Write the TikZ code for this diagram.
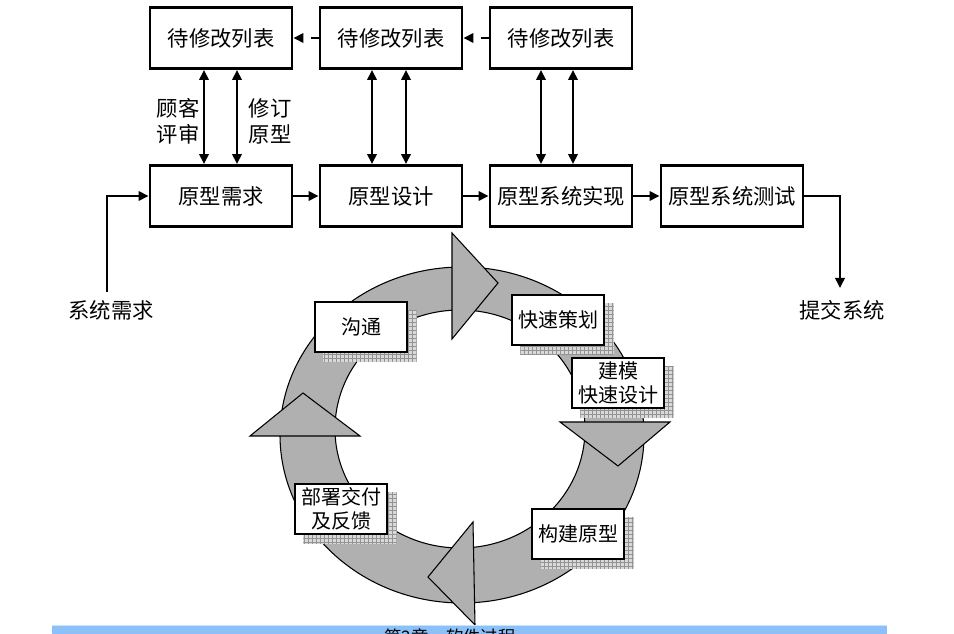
\documentclass[tikz,border=0pt]{standalone}
\usepackage{fontspec}
\newfontfamily\cjk{Noto Sans CJK SC}
\usetikzlibrary{arrows.meta,calc,patterns}

\definecolor{ringgray}{RGB}{176,176,176}
\definecolor{barblue}{RGB}{140,192,248}
\definecolor{barline}{RGB}{200,228,252}

\pgfdeclarelayer{bg}
\pgfsetlayers{bg,main}

\begin{document}
\begin{tikzpicture}[x=0.75pt,y=-0.75pt,
  font=\cjk\fontsize{16pt}{19.5pt}\selectfont,
  flowbox/.style={draw,line width=2.2pt,minimum width=106.5pt,minimum height=45.75pt,inner sep=0pt},
  tip/.tip={Triangle[length=7.5pt,width=7pt]},
  flowarrow/.style={line width=2.2pt,-tip},
  duplex/.style={line width=2.2pt,tip-tip},
  backarrow/.style={flowarrow,dash pattern=on 6pt off 7pt},
  ringarea/.style={fill=ringgray,draw=black,line width=0.8pt},
  stagebox/.style={draw,fill=white,line width=0.8pt,minimum width=69pt,minimum height=37.5pt,
    inner sep=0pt,align=center,font=\cjk\fontsize{15pt}{17.5pt}\selectfont},
  stageshadow/.style={fill=gray!30,postaction={pattern=grid,pattern color=gray!85}},
  caption/.style={align=center,inner sep=0pt}
]
\useasboundingbox (0,0) rectangle (954,634);

% pending-change lists
\node[flowbox] (m1) at (221,38) {待修改列表};
\node[flowbox] (m2) at (391,38) {待修改列表};
\node[flowbox] (m3) at (561,38) {待修改列表};

% prototyping pipeline
\node[flowbox] (r1) at (221,196) {原型需求};
\node[flowbox] (r2) at (391,196) {原型设计};
\node[flowbox] (r3) at (561,196) {原型系统实现};
\node[flowbox] (r4) at (732,196) {原型系统测试};

\draw[backarrow] (m2.west) -- (m1.east);
\draw[backarrow] (m3.west) -- (m2.east);

\draw[duplex] ([xshift=-12.75pt]m1.south) -- ([xshift=-12.75pt]r1.north);
\draw[duplex] ([xshift=12pt]m1.south) -- ([xshift=12pt]r1.north);
\draw[duplex] ([xshift=-14.25pt]m2.south) -- ([xshift=-14.25pt]r2.north);
\draw[duplex] ([xshift=11.25pt]m2.south) -- ([xshift=11.25pt]r2.north);
\draw[duplex] ([xshift=-15pt]m3.south) -- ([xshift=-15pt]r3.north);
\draw[duplex] ([xshift=9pt]m3.south) -- ([xshift=9pt]r3.north);

\node[caption] (review) at (178,121) {顾客\\评审};
\node[caption] (revise) at (270,121) {修订\\原型};

\draw[flowarrow] (r1) -- (r2);
\draw[flowarrow] (r2) -- (r3);
\draw[flowarrow] (r3) -- (r4);

% system input and output
\node[caption] (sysreq) at (111,310) {系统需求};
\coordinate (sysin) at (107,292);
\draw[flowarrow] (sysin) |- (r1.west);

\node[caption] (submit) at (842,310) {提交系统};
\coordinate (sysout) at (840,288);
\draw[flowarrow] (r4.east) -| (sysout);

% stages of the cycle
\node[stagebox] (s1) at (361,327) {沟通};
\node[stagebox] (s2) at (558,320) {快速策划};
\node[stagebox] (s3) at (618,383) {建模\\快速设计};
\node[stagebox] (s4) at (578,534) {构建原型};
\node[stagebox] (s5) at (341,509) {部署交付\\及反馈};

\begin{pgfonlayer}{bg}
  % ring band
  \path[ringarea,even odd rule]
    (462,435) ellipse [x radius=136.5pt, y radius=126pt]
    (460,429) ellipse [x radius=93.75pt, y radius=89.25pt];
  % arrowheads on the ring
  \path[ringarea] (452,233) -- (498,283) -- (452,339) -- cycle;
  \path[ringarea] (560,422) -- (670,422) -- (618,466) -- cycle;
  \path[ringarea] (473,522) -- (428,577) -- (475,625) -- cycle;
  \path[ringarea] (250,436) -- (303,393) -- (360,436) -- cycle;
  % drop shadows of the stage boxes
  \foreach \s in {s1,s2,s3,s4,s5}
    \path[stageshadow] ([shift={(9,9)}]\s.south west) rectangle ([shift={(9,9)}]\s.north east);
\end{pgfonlayer}

% chapter bar along the lower edge
\fill[barblue] (52,626) rectangle (887,640);
\fill[barline] (52,625) rectangle (887,626.5);
\begin{scope}
  \clip (52,626) rectangle (887,634);
  \node[caption,font=\cjk\fontsize{13pt}{15pt}\selectfont] (chapter) at (450,637) {第2章\quad 软件过程};
\end{scope}
\end{tikzpicture}
\end{document}
